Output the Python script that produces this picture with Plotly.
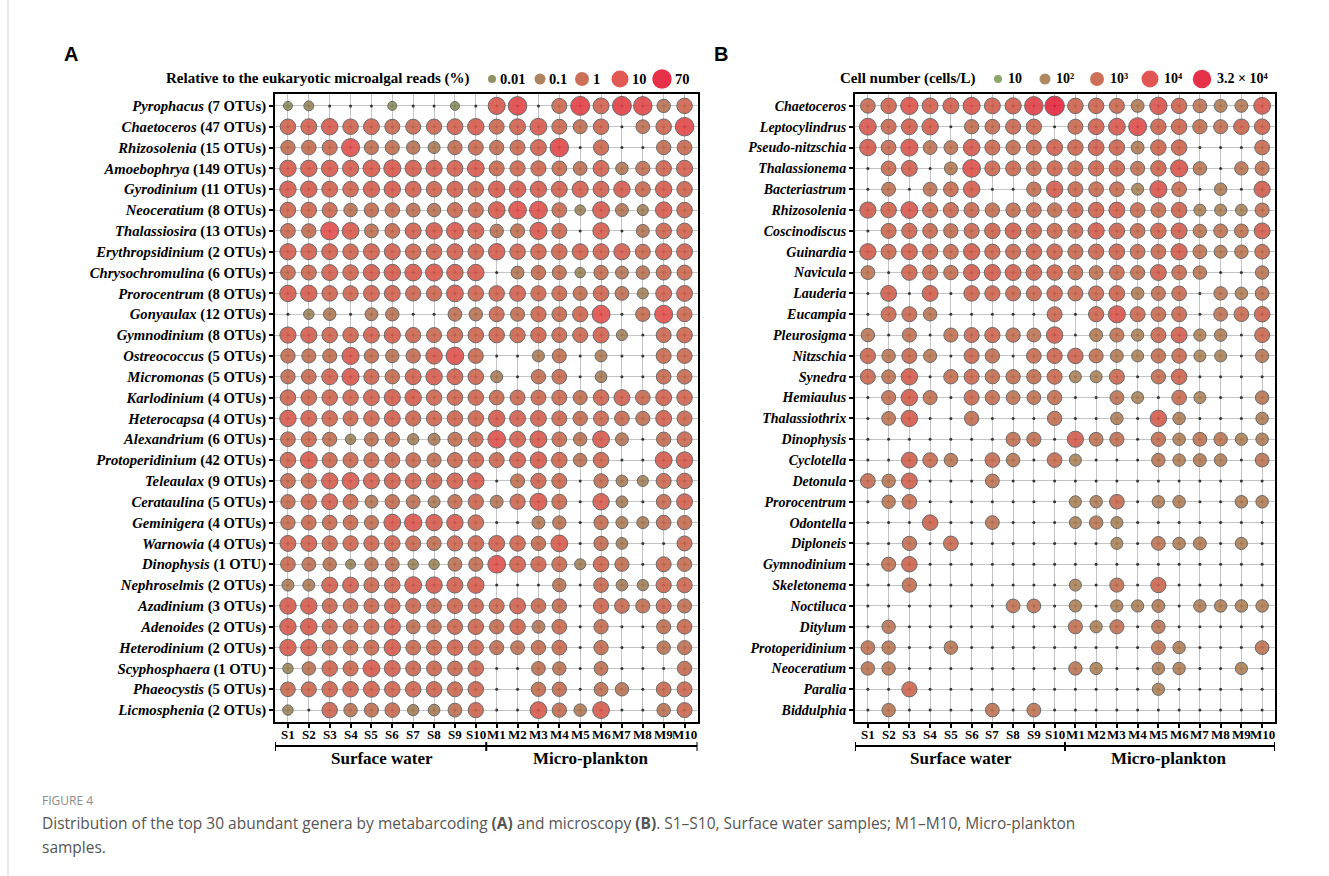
import numpy as np
import plotly.graph_objects as go

W, H = 1329, 876

samples = [f"S{i}" for i in range(1, 11)] + [f"M{i}" for i in range(1, 11)]

# ---- Panel A: metabarcoding (relative reads, %) ----
genera_reads = ["Pyrophacus", "Chaetoceros", "Rhizosolenia", "Amoebophrya", "Gyrodinium",
                "Neoceratium", "Thalassiosira", "Erythropsidinium", "Chrysochromulina",
                "Prorocentrum", "Gonyaulax", "Gymnodinium", "Ostreococcus", "Micromonas",
                "Karlodinium", "Heterocapsa", "Alexandrium", "Protoperidinium", "Teleaulax",
                "Cerataulina", "Geminigera", "Warnowia", "Dinophysis", "Nephroselmis",
                "Azadinium", "Adenoides", "Heterodinium", "Scyphosphaera", "Phaeocystis",
                "Licmosphenia"]
otu_counts = [7, 47, 15, 149, 11, 8, 13, 2, 6, 8, 12, 8, 5, 5, 4, 4, 6, 42, 9, 5, 4, 4, 1,
              2, 3, 2, 2, 1, 5, 2]

reads_surface = [
    [0.01, 0.02, 0, 0, 0, 0.01, 0, 0, 0.01, 0],
    [1.5, 2, 3, 1.5, 2, 1, 1, 1.2, 2, 3],
    [0.6, 0.7, 1, 10, 0.5, 0.5, 0.3, 0.1, 0.6, 1],
    [3, 3, 3, 2.5, 4, 5, 2.5, 2.5, 2, 4],
    [3, 3, 2, 1.5, 2.5, 3, 2, 1.5, 2, 1.5],
    [1.5, 1.5, 1, 0.3, 0.6, 0.7, 0.4, 0.3, 1, 1],
    [0.8, 0.6, 10, 4, 0.4, 0.8, 2, 3, 4, 2],
    [2.5, 2, 2, 1.5, 2, 2, 1.5, 1.5, 2, 1.5],
    [0.8, 1, 2, 1.5, 2.5, 3, 4, 5, 3, 3],
    [3, 3, 1.5, 1.2, 2, 2, 1.2, 1.2, 4, 1.5],
    [0, 0.03, 0.15, 0, 0.2, 0.3, 0, 0, 0.4, 0.3],
    [2.5, 2.5, 1.5, 1.5, 2, 2.5, 1.2, 1, 1.5, 1.5],
    [0.6, 0.5, 0.5, 5, 0.6, 0.3, 0.6, 3, 8, 1],
    [0.6, 0.8, 2, 5, 1.2, 0.6, 2, 3, 2, 1.5],
    [1.5, 1.5, 1.5, 1.5, 2, 2.5, 3, 1.5, 1.5, 1.5],
    [3, 2, 1.5, 1, 1.5, 2, 1.2, 1.2, 1.5, 1.5],
    [0.8, 1, 0.5, 0.03, 0.4, 0.6, 0.06, 0.1, 0.5, 0.8],
    [1.5, 4, 1, 1, 1, 1, 0.8, 0.5, 1, 1.5],
    [0.8, 1, 2.5, 4, 2, 2, 1.5, 1.5, 2, 3],
    [0.6, 1.2, 2, 1, 0.2, 0.6, 0.4, 0.1, 0.6, 1.2],
    [0.6, 0.8, 0.8, 0.8, 0.5, 4, 6, 3, 3, 1.5],
    [2, 2, 1.2, 1.2, 1.2, 1.5, 1, 0.5, 1.2, 1.5],
    [0.8, 0.4, 0.3, 0.02, 0.3, 0.4, 0.03, 0.03, 0.4, 0.5],
    [0.1, 0.1, 2, 2, 1, 1.5, 4, 3, 2, 3],
    [3, 3, 1, 0.8, 1, 1.5, 1, 0.8, 1.2, 1.2],
    [3, 3.5, 1, 0.8, 1, 2.5, 0.4, 0.6, 1.2, 1.5],
    [3, 2.5, 1, 0.8, 1, 3, 0.8, 1, 1.5, 1.2],
    [0.03, 0.3, 1.5, 1, 4, 2, 1, 1, 0.8, 1.5],
    [0.8, 1, 1.5, 1.5, 2, 1.5, 1.5, 1.5, 1, 1.5],
    [0.03, 0, 1.5, 0.3, 0.5, 0.8, 0.06, 0.08, 0.4, 1.2],
]
reads_micro = [
    [5, 15, 0, 1, 20, 2, 20, 15, 0.3, 1.5],
    [1, 2, 4, 1, 0.5, 1.5, 0, 0.4, 1.5, 15],
    [0.6, 1, 2, 15, 0, 1.2, 0, 0, 0.6, 0.8],
    [1, 1.2, 1.2, 0.8, 0.4, 2, 0.15, 0.5, 1.5, 2.5],
    [3, 3, 2.5, 2, 2.5, 2, 3, 1, 3, 1.5],
    [4, 8, 8, 0.8, 0.03, 4, 0.2, 0.05, 3, 1.5],
    [0.3, 0.5, 5, 1, 0, 3, 0, 0.2, 1.5, 1.5],
    [3, 1.5, 1.5, 1.5, 2, 2, 2.5, 1, 2.5, 2],
    [0, 0.2, 0.6, 0.5, 0.03, 0.6, 0.2, 0.3, 1, 1],
    [1.5, 2, 1.2, 1, 0.5, 1.5, 0.4, 0.05, 2, 2],
    [1, 0.5, 1.2, 0.8, 1.2, 10, 0, 0.6, 10, 1],
    [1.5, 1.2, 1.5, 1, 1, 2, 0.05, 0, 1, 1.5],
    [0, 0, 0.1, 0.5, 0, 0.1, 0, 0, 1, 1],
    [0.1, 0, 0.6, 0.8, 0, 0.08, 0, 0, 0.8, 0.8],
    [0.8, 1, 1, 1, 0.5, 1.5, 2, 0.8, 2, 1.5],
    [3, 2, 2, 1, 0.6, 1, 0.8, 0.5, 2, 1],
    [8, 2, 4, 0.8, 0.3, 4, 0.2, 0, 0.6, 1],
    [1, 2, 3, 1.5, 0.3, 1.5, 0, 0, 4, 3],
    [0, 0.5, 1.2, 1, 0, 0.6, 0.08, 0.05, 1, 1.5],
    [0.2, 1.2, 5, 1, 0, 3, 0.08, 0, 0.8, 2],
    [0, 0, 0.2, 0.3, 0, 0.6, 0.1, 0.1, 0.8, 0.6],
    [2, 1.5, 0.6, 4, 0, 0.6, 0.08, 0, 0, 1],
    [8, 2, 1.2, 1, 0.05, 1.5, 0.5, 0, 1, 0.6],
    [0, 0, 0, 0.3, 0, 0.8, 0.08, 0.06, 1.2, 1.2],
    [1, 2, 0.8, 0.6, 0, 1.2, 0.8, 0.5, 1, 0.5],
    [0.6, 1.5, 0.2, 0.8, 0, 0.6, 0, 0, 0.5, 0.8],
    [0.5, 0.4, 0.6, 0.8, 0, 0.6, 0, 0, 0.3, 0.5],
    [0, 0, 0.4, 0.3, 0, 0.4, 0, 0, 0, 0.6],
    [0, 0, 0.6, 0.6, 0, 0.4, 0.3, 0, 0.8, 1],
    [0, 0, 4, 0.6, 0.15, 4, 0, 0, 0.3, 1],
]

# ---- Panel B: microscopy (cells/L) ----
genera_cells = ["Chaetoceros", "Leptocylindrus", "Pseudo-nitzschia", "Thalassionema",
                "Bacteriastrum", "Rhizosolenia", "Coscinodiscus", "Guinardia", "Navicula",
                "Lauderia", "Eucampia", "Pleurosigma", "Nitzschia", "Synedra", "Hemiaulus",
                "Thalassiothrix", "Dinophysis", "Cyclotella", "Detonula", "Prorocentrum",
                "Odontella", "Diploneis", "Gymnodinium", "Skeletonema", "Noctiluca",
                "Ditylum", "Protoperidinium", "Neoceratium", "Paralia", "Biddulphia"]

cells_surface = [
    [800, 1500, 6000, 2000, 2000, 5000, 2000, 2500, 15000, 32000],
    [4000, 1000, 2000, 3000, 0, 600, 800, 1000, 1200, 0],
    [3000, 800, 5000, 400, 400, 3500, 1000, 600, 1000, 2000],
    [0, 800, 2000, 0, 200, 8000, 1000, 1000, 800, 1200],
    [0, 400, 0, 400, 800, 3000, 0, 0, 600, 3000],
    [2500, 1500, 4000, 1000, 1000, 1000, 600, 600, 800, 600],
    [0, 1000, 1200, 800, 600, 1000, 1500, 2000, 1200, 1000],
    [2500, 1000, 2000, 1200, 800, 2500, 1200, 1000, 1500, 1500],
    [400, 0, 1500, 1000, 600, 2500, 2500, 2000, 1500, 1500],
    [0, 2000, 0, 2000, 0, 1500, 1200, 1000, 1000, 1500],
    [0, 1000, 1000, 300, 0, 0, 0, 0, 0, 1000],
    [300, 0, 500, 0, 500, 1000, 1200, 600, 400, 3000],
    [1200, 300, 1000, 250, 0, 1000, 600, 0, 800, 1200],
    [1000, 400, 3000, 0, 600, 1000, 600, 600, 600, 1000],
    [0, 500, 3000, 500, 0, 1000, 600, 400, 400, 600],
    [0, 400, 3000, 0, 0, 600, 0, 0, 0, 600],
    [0, 0, 0, 0, 0, 0, 0, 500, 500, 0],
    [0, 0, 2000, 800, 300, 0, 800, 300, 0, 800],
    [800, 300, 2000, 0, 0, 0, 400, 0, 0, 0],
    [0, 300, 800, 0, 0, 0, 0, 0, 0, 0],
    [0, 0, 0, 1500, 0, 0, 400, 0, 0, 0],
    [0, 0, 600, 0, 800, 0, 0, 0, 0, 0],
    [0, 500, 1500, 0, 0, 0, 0, 0, 0, 0],
    [0, 0, 600, 0, 0, 0, 0, 0, 0, 0],
    [0, 0, 0, 0, 0, 0, 0, 400, 400, 0],
    [0, 300, 0, 0, 0, 0, 0, 0, 0, 0],
    [400, 300, 0, 0, 300, 0, 0, 0, 0, 0],
    [300, 300, 0, 0, 0, 0, 0, 0, 0, 0],
    [0, 0, 1200, 0, 0, 0, 0, 0, 0, 0],
    [0, 300, 0, 0, 0, 0, 400, 0, 400, 0],
]
cells_micro = [
    [1500, 1500, 1000, 200, 6000, 1500, 400, 200, 200, 4000],
    [1000, 2000, 4000, 10000, 1500, 1500, 600, 500, 1500, 1500],
    [1500, 2000, 1500, 200, 1500, 1500, 0, 0, 0, 800],
    [1000, 1200, 1500, 500, 1500, 5000, 300, 0, 300, 500],
    [1000, 800, 800, 100, 5000, 800, 0, 150, 0, 2500],
    [1200, 1500, 2000, 800, 800, 1500, 100, 100, 80, 500],
    [1000, 2500, 1500, 800, 1500, 2000, 300, 400, 400, 2000],
    [1000, 1200, 1500, 800, 800, 2500, 400, 200, 300, 800],
    [800, 400, 800, 500, 2000, 800, 300, 0, 0, 300],
    [1000, 1000, 1500, 150, 500, 800, 0, 300, 150, 400],
    [0, 1200, 5000, 1000, 800, 1000, 0, 400, 800, 1500],
    [0, 200, 500, 120, 1000, 2000, 120, 150, 0, 1000],
    [1500, 500, 200, 100, 600, 800, 100, 100, 0, 250],
    [100, 100, 1000, 0, 600, 1500, 0, 0, 0, 0],
    [0, 0, 400, 100, 0, 800, 100, 0, 0, 300],
    [0, 0, 150, 0, 3000, 150, 0, 0, 0, 150],
    [2500, 400, 500, 0, 600, 150, 400, 300, 120, 150],
    [100, 0, 0, 0, 300, 150, 200, 150, 0, 400],
    [0, 0, 0, 0, 0, 0, 0, 0, 0, 0],
    [100, 150, 800, 0, 150, 150, 0, 0, 150, 150],
    [100, 300, 100, 0, 0, 0, 0, 0, 0, 0],
    [0, 0, 100, 0, 400, 150, 200, 0, 120, 0],
    [0, 0, 0, 0, 0, 0, 0, 0, 0, 0],
    [100, 0, 500, 0, 1200, 0, 0, 0, 0, 0],
    [120, 0, 120, 120, 200, 0, 150, 150, 150, 150],
    [500, 120, 500, 0, 300, 0, 0, 0, 0, 0],
    [0, 0, 0, 0, 400, 150, 0, 0, 0, 400],
    [300, 120, 0, 0, 150, 150, 0, 0, 120, 0],
    [0, 0, 0, 0, 120, 0, 0, 0, 0, 0],
    [0, 0, 0, 0, 0, 0, 0, 0, 0, 0],
]

legend_reads = [0.01, 0.1, 1, 10, 70]
legend_reads_text = ["0.01", "0.1", "1", "10", "70"]
legend_cells = [10, 100, 1000, 10000, 32000]
legend_cells_text = ["10", "10²", "10³", "10⁴", "3.2 × 10⁴"]

# ---- styling ----
SERIF = "Liberation Serif"
scale_reads = [[0.0, "#8d8b5c"], [0.26, "#aa7c57"], [0.52, "#ca684f"],
               [0.78, "#e04f4b"], [1.0, "#e6263f"]]
scale_cells = [[0.0, "#86a062"], [0.286, "#aa8358"], [0.571, "#c9684f"],
               [0.857, "#df4d4b"], [1.0, "#e4263f"]]
READS_LO, READS_HI = -2.0, np.log10(70)
CELLS_LO, CELLS_HI = 1.0, np.log10(32000)


def px(x):
    return x / W


def py(y):
    return 1 - y / H


def size_reads(v):
    return 9 + 3 * (np.log10(v) + 2)


def size_cells(v):
    return 12 + 3 * (np.log10(v) - 2)


def bubbles(mat, size_fn, cscale, lo, hi, xa, ya):
    m = np.asarray(mat, dtype=float)
    r, c = np.nonzero(m > 0)
    v = m[r, c]
    return go.Scatter(
        x=c, y=r, mode="markers", xaxis=xa, yaxis=ya, hoverinfo="skip",
        marker=dict(size=size_fn(v), color=np.log10(v), colorscale=cscale,
                    cmin=lo, cmax=hi, opacity=0.9,
                    line=dict(color="#5b5b5b", width=1)),
    )


def grid_dots(nr, nc, xa, ya):
    rr, cc = np.meshgrid(np.arange(nr), np.arange(nc), indexing="ij")
    return go.Scatter(x=cc.ravel(), y=rr.ravel(), mode="markers", xaxis=xa, yaxis=ya,
                      hoverinfo="skip", marker=dict(size=3, color="#333333"))


mat_reads = np.hstack([np.array(reads_surface), np.array(reads_micro)])
mat_cells = np.hstack([np.array(cells_surface), np.array(cells_micro)])
nrow, ncol = mat_reads.shape

fig = go.Figure()
fig.add_trace(grid_dots(nrow, ncol, "x", "y"))
fig.add_trace(bubbles(mat_reads, size_reads, scale_reads, READS_LO, READS_HI, "x", "y"))
fig.add_trace(grid_dots(nrow, ncol, "x2", "y2"))
fig.add_trace(bubbles(mat_cells, size_cells, scale_cells, CELLS_LO, CELLS_HI, "x2", "y2"))

# size legends drawn on a pixel-space overlay axis
leg_y = 79
xa_centers = [492, 540, 582, 620, 662]
xb_centers = [998, 1045, 1097, 1150, 1202]
lr = np.array(legend_reads, dtype=float)
lc = np.array(legend_cells, dtype=float)
fig.add_trace(go.Scatter(
    x=xa_centers, y=[leg_y] * len(lr), mode="markers", xaxis="x3", yaxis="y3",
    hoverinfo="skip",
    marker=dict(size=size_reads(lr) - 1, color=np.log10(lr), colorscale=scale_reads,
                cmin=READS_LO, cmax=READS_HI, opacity=0.95, line=dict(width=0))))
fig.add_trace(go.Scatter(
    x=xb_centers, y=[leg_y] * len(lc), mode="markers", xaxis="x3", yaxis="y3",
    hoverinfo="skip",
    marker=dict(size=size_cells(lc) - 1, color=np.log10(lc), colorscale=scale_cells,
                cmin=CELLS_LO, cmax=CELLS_HI, opacity=0.95, line=dict(width=0))))

ytext_reads = [f"<b><i>{g}</i> ({n} OTU{'s' if n > 1 else ''})</b>"
               for g, n in zip(genera_reads, otu_counts)]
ytext_cells = [f"<b><i>{g}</i></b>" for g in genera_cells]

y_dom = [py(722), py(94)]
common_x = dict(range=[-0.62, ncol - 1 + 0.62], tickmode="array",
                tickvals=list(range(ncol)), showticklabels=False,
                ticks="outside", ticklen=4, tickwidth=1.5, tickcolor="black",
                showline=True, mirror=True, linewidth=2, linecolor="black",
                showgrid=True, gridcolor="#c4c4c4", gridwidth=1, zeroline=False,
                fixedrange=True)
common_y = dict(range=[nrow - 1 + 0.57, -0.57], tickmode="array",
                tickvals=list(range(nrow)),
                ticks="outside", ticklen=4, tickwidth=1.5, tickcolor="black",
                showline=True, mirror=True, linewidth=2, linecolor="black",
                showgrid=True, gridcolor="#c4c4c4", gridwidth=1, zeroline=False,
                fixedrange=True, domain=y_dom)

fig.update_layout(
    width=W, height=H, margin=dict(l=0, r=0, t=0, b=0),
    paper_bgcolor="white", plot_bgcolor="rgba(0,0,0,0)", showlegend=False,
    hovermode=False,
    xaxis=dict(common_x, domain=[px(275), px(697.5)], anchor="y"),
    yaxis=dict(common_y, ticktext=ytext_reads, anchor="x",
               tickfont=dict(family=SERIF, size=14.7, color="black")),
    xaxis2=dict(common_x, domain=[px(855), px(1275)], anchor="y2"),
    yaxis2=dict(common_y, ticktext=ytext_cells, anchor="x2",
                tickfont=dict(family=SERIF, size=14, color="black")),
    xaxis3=dict(domain=[0, 1], range=[0, W], visible=False, anchor="y3", fixedrange=True),
    yaxis3=dict(domain=[0, 1], range=[H, 0], visible=False, anchor="x3", fixedrange=True),
)

ann = []
shapes = []

# panel letters
for letter, x in (("A", 71), ("B", 721)):
    ann.append(dict(text=f"<b>{letter}</b>", x=px(x), y=py(54), xref="paper", yref="paper",
                    showarrow=False, xanchor="center", yanchor="middle",
                    font=dict(family="Liberation Sans", size=20, color="black")))

# legend titles and labels
ann.append(dict(text="<b>Relative to the eukaryotic microalgal reads (%)</b>",
                x=px(472), y=py(leg_y), xref="paper", yref="paper", showarrow=False,
                xanchor="right", yanchor="middle",
                font=dict(family=SERIF, size=15, color="black")))
for xc, v, t in zip(xa_centers, lr, legend_reads_text):
    ann.append(dict(text=f"<b>{t}</b>", x=px(xc + size_reads(v) / 2 + 1), y=py(leg_y),
                    xref="paper", yref="paper", showarrow=False, xanchor="left",
                    yanchor="middle", font=dict(family=SERIF, size=14.5, color="black")))
ann.append(dict(text="<b>Cell number (cells/L)</b>",
                x=px(978), y=py(leg_y), xref="paper", yref="paper", showarrow=False,
                xanchor="right", yanchor="middle",
                font=dict(family=SERIF, size=15, color="black")))
for xc, v, t in zip(xb_centers, lc, legend_cells_text):
    ann.append(dict(text=f"<b>{t}</b>", x=px(xc + size_cells(v) / 2 + 3), y=py(leg_y),
                    xref="paper", yref="paper", showarrow=False, xanchor="left",
                    yanchor="middle", font=dict(family=SERIF, size=14, color="black")))

# sample labels, group brackets and group names under each panel
for xref in ("x", "x2"):
    for i, s in enumerate(samples):
        ann.append(dict(text=f"<b>{s}</b>", x=i, y=py(734), xref=xref, yref="paper",
                        showarrow=False, xanchor="center", yanchor="middle",
                        font=dict(family=SERIF, size=13, color="black")))
    lo, hi, mid = -0.62, ncol - 1 + 0.62, (ncol - 1) / 2
    yb = py(746)
    shapes.append(dict(type="line", xref=xref, yref="paper", x0=lo, x1=hi, y0=yb, y1=yb,
                       line=dict(color="black", width=2)))
    for xv in (lo, mid, hi):
        shapes.append(dict(type="line", xref=xref, yref="paper", x0=xv, x1=xv,
                           y0=py(742), y1=py(751), line=dict(color="black", width=2)))
    for label, xc in (("Surface water", 4.5), ("Micro-plankton", 14.5)):
        ann.append(dict(text=f"<b>{label}</b>", x=xc, y=py(758), xref=xref, yref="paper",
                        showarrow=False, xanchor="center", yanchor="middle",
                        font=dict(family=SERIF, size=17, color="black")))

# caption
CAP_X = 40
ann.append(dict(text="FIGURE 4", x=px(CAP_X), y=py(800), xref="paper", yref="paper",
                showarrow=False, xanchor="left", yanchor="middle",
                font=dict(family="Open Sans", size=12, color="#8a8a8a")))
ann.append(dict(text=("Distribution of the top 30 abundant genera by metabarcoding <b>(A)</b> "
                      "and microscopy <b>(B)</b>. S1–S10, Surface water samples; M1–M10, "
                      "Micro-plankton"),
                x=px(CAP_X), y=py(823), xref="paper", yref="paper", showarrow=False,
                xanchor="left", yanchor="middle",
                font=dict(family="Open Sans", size=15.5, color="#555555")))
ann.append(dict(text="samples.", x=px(CAP_X), y=py(847), xref="paper", yref="paper",
                showarrow=False, xanchor="left", yanchor="middle",
                font=dict(family="Open Sans", size=15.5, color="#555555")))

shapes.append(dict(type="line", xref="paper", yref="paper", x0=px(8), x1=px(8),
                   y0=0, y1=1, line=dict(color="#cfcfcf", width=1)))

fig.update_layout(annotations=ann, shapes=shapes)
fig.write_html("out.html")
